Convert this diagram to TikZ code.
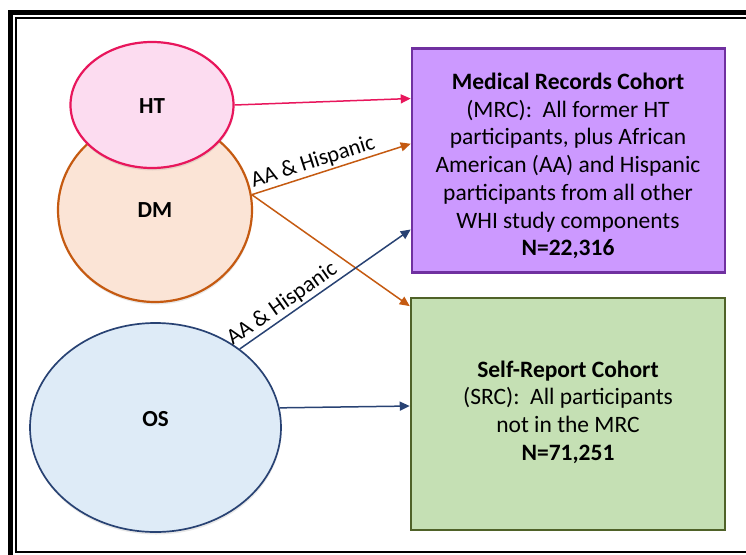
\documentclass[tikz,border=0pt]{standalone}
\usepackage{fontspec}
\setmainfont{Carlito}
\usetikzlibrary{arrows.meta,shapes.geometric,calc,shadows}
\definecolor{htfill}{RGB}{252,220,240}
\definecolor{htline}{RGB}{232,22,92}
\definecolor{dmfill}{RGB}{251,228,214}
\definecolor{dmline}{RGB}{197,90,17}
\definecolor{osfill}{RGB}{222,235,247}
\definecolor{osline}{RGB}{40,66,115}
\definecolor{mrcfill}{RGB}{204,153,255}
\definecolor{mrcline}{RGB}{112,48,160}
\definecolor{srcfill}{RGB}{197,224,180}
\definecolor{srcline}{RGB}{79,98,40}
\begin{document}
\begin{tikzpicture}[x=1pt,y=-1pt,
  every node/.style={font=\fontsize{23.5}{27.7}\selectfont},
  ell/.style={ellipse, draw, line width=2.2pt, inner sep=0pt,
    drop shadow={opacity=0.18, shadow xshift=0.5pt, shadow yshift=-2.5pt}},
  box/.style={rectangle, draw, line width=2.2pt, inner sep=0pt},
  boxtext/.style={align=center, inner sep=0pt},
  elltext/.style={font=\fontsize{23}{26}\selectfont\bfseries},
  arr/.style={-{Triangle[length=10pt,width=9pt]}, line width=1.5pt},
  lab/.style={font=\fontsize{22.5}{26}\selectfont, sloped, above, inner sep=2pt, pos=#1}]
\useasboundingbox (0,0) rectangle (746,554);
\clip (0,0) rectangle (746,554);
% frame
\draw[line width=5pt] (10.5,12.5) rectangle (770,575);
\draw[line width=1.5pt] (16,18) rectangle (760,552);
% ellipses
\node[ell, fill=dmfill, draw=dmline, minimum width=194pt, minimum height=184pt] (dm) at (155,210) {};
\node[ell, fill=htfill, draw=htline, minimum width=163pt, minimum height=126pt] (ht) at (152,105) {};
\node[ell, fill=osfill, draw=osline, line width=1.7pt, minimum width=251pt, minimum height=209pt] (os) at (155.5,427.5) {};
\node[elltext] (httext) at (152,106) {HT};
\node[elltext] (dmtext) at (155,210) {DM};
\node[elltext] (ostext) at (155.5,419) {OS};
% boxes
\node[box, fill=mrcfill, draw=mrcline, minimum width=313pt, minimum height=224pt] (mrc) at (568.3,160.5) {};
\node[box, fill=srcfill, draw=srcline, line width=2.5pt, minimum width=314pt, minimum height=232pt] (src) at (568,414) {};
\node[boxtext] (mrctext) at (568,166) {\textbf{Medical Records Cohort}\\(MRC):\ \ All former HT\\participants, plus African\\American (AA) and Hispanic\\participants from all other\\WHI study components\\\textbf{N=22,316}};
\node[boxtext] (srctext) at (568,412) {\textbf{Self-Report Cohort}\\(SRC):\ \ All participants\\not in the MRC\\\textbf{N=71,251}};
% arrows
\draw[arr, htline] (ht.east) -- ($(mrc.north west)!0.226!(mrc.south west)$);
\draw[arr, dmline] (dm.9) -- ($(mrc.north west)!0.426!(mrc.south west)$)
  node[lab=0.41, text=black] (lab1) {AA \& Hispanic};
\draw[arr, dmline] (dm.9) -- ($(src.north west)!0.04!(src.south west)$);
\draw[arr, osline] (os.43) -- ($(mrc.north west)!0.805!(mrc.south west)$)
  node[lab=0.29, text=black] (lab2) {AA \& Hispanic};
\draw[arr, osline] (os.9.5) -- ($(src.north west)!0.466!(src.south west)$);
\end{tikzpicture}
\end{document}
